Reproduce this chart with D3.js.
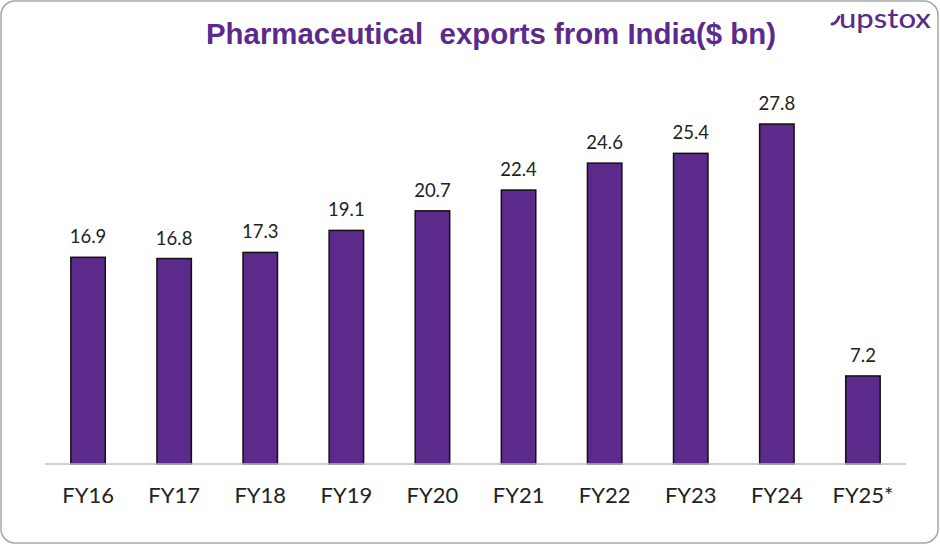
<!DOCTYPE html>
<html><head><meta charset="utf-8">
<script src="https://cdn.jsdelivr.net/npm/d3@7"></script>
<style>body{margin:0;background:#fff;}svg{display:block;}</style>
</head><body>
<script>
const categories = ["FY16","FY17","FY18","FY19","FY20","FY21","FY22","FY23","FY24","FY25*"];
const values = [16.9,16.8,17.3,19.1,20.7,22.4,24.6,25.4,27.8,7.2];
const title = "Pharmaceutical  exports from India($ bn)";

const W = 940, H = 545;
const svg = d3.select("body").append("svg").attr("width", W).attr("height", H);
svg.append("rect").attr("x",1).attr("y",1).attr("width",W-3).attr("height",H-3)
  .attr("rx",14).attr("fill","#fff").attr("stroke","#a6a6a6").attr("stroke-width",1.5);

const x = d3.scaleBand().domain(categories).range([45,906]).paddingInner(0.6).paddingOuter(0.3);
const y = d3.scaleLinear().domain([0,27.8]).range([464,124]);

svg.append("text").attr("x",491).attr("y",44).attr("text-anchor","middle")
  .attr("font-family","Liberation Sans, Arial, sans-serif").attr("font-weight","bold")
  .attr("font-size",29.4).attr("fill","#5b2a8c").style("white-space","pre").text(title);

// logo
const lg = svg.append("g");
lg.append("text").attr("x",839).attr("y",28).attr("font-family","Lato, sans-serif")
  .attr("font-weight",500).attr("font-size",27).attr("fill","#5b2a8c")
  .attr("textLength",92).attr("lengthAdjust","spacingAndGlyphs").text("upstox");
lg.append("path").attr("d","M832,24 q4,0 7,-7").attr("fill","none").attr("stroke","#5b2a8c").attr("stroke-width",3).attr("stroke-linecap","round");

svg.selectAll("rect.bar").data(values).enter().append("rect").attr("class","bar")
  .attr("x",(d,i)=>x(categories[i])).attr("width",x.bandwidth())
  .attr("y",d=>y(d)).attr("height",d=>y(0)-y(d))
  .attr("fill","#5b2a8a").attr("stroke","#111").attr("stroke-width",1.5);

svg.selectAll("text.val").data(values).enter().append("text").attr("class","val")
  .attr("x",(d,i)=>x(categories[i])+x.bandwidth()/2).attr("y",d=>y(d)-14)
  .attr("text-anchor","middle").attr("font-family","Lato, 'Open Sans', sans-serif")
  .attr("font-size",18.5).attr("fill","#222").text(d=>d.toFixed(1));

const axis = d3.axisBottom(x).tickSize(0).tickPadding(23);
const ag = svg.append("g").attr("transform","translate(0,464)").call(axis);
ag.select(".domain").attr("stroke","#bfbfbf").attr("stroke-width",1.5).attr("d","M45,0H906");
ag.selectAll("text").attr("font-family","Lato, 'Open Sans', sans-serif").attr("font-size",22).attr("fill","#222");
</script>
</body></html>
